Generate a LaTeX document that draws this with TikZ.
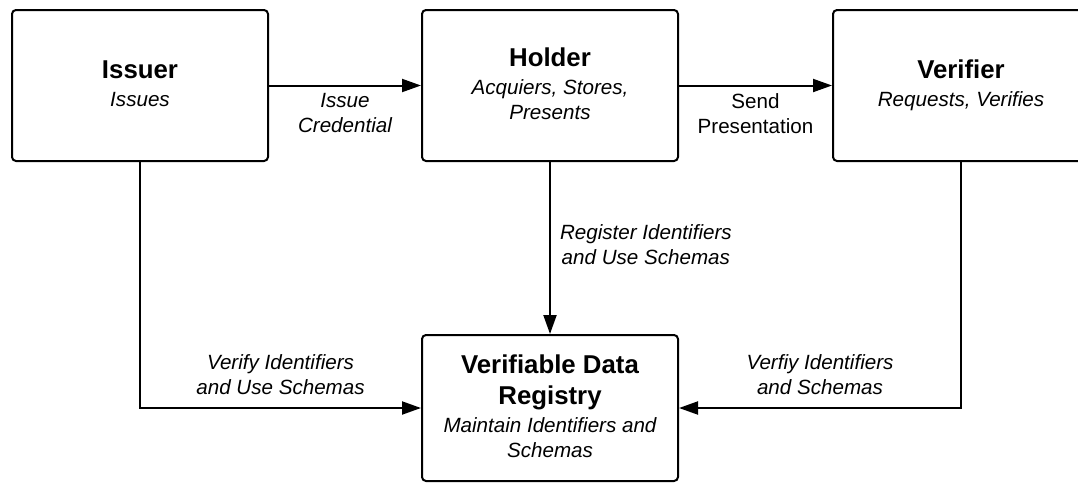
\documentclass[tikz,border=0pt]{standalone}
\usepackage{fontspec}
\setmainfont{Liberation Sans}
\usetikzlibrary{arrows.meta}

% bold heading line inside a party box
\newcommand{\boxtitle}[1]{{\fontsize{25.8}{31}\selectfont\bfseries\strut #1}}
% italic description line inside a party box
\newcommand{\boxnote}[1]{{\itshape\strut #1}}

\begin{document}
\begin{tikzpicture}[x=1pt,y=-1pt,
  role/.style={draw=black, line width=2pt, rounded corners=4pt, fill=white,
    minimum width=256pt, minimum height=151pt, align=center,
    font=\fontsize{20.6}{25}\selectfont, inner sep=0pt},
  flow/.style={line width=2pt, -{Triangle[length=19pt,width=13pt]}},
  lbl/.style={font=\fontsize{20.6}{25}\selectfont\itshape, align=center, inner sep=3pt},
  plainlbl/.style={font=\fontsize{20.6}{25}\selectfont, align=center, inner sep=3pt}]

\useasboundingbox (0,0) rectangle (1078,482);

% the four parties
\node[role] (issuer)   at (140,85.5) {\boxtitle{Issuer}\\\boxnote{Issues}};
\node[role] (holder)   at (550,85.5) {\boxtitle{Holder}\\\boxnote{Acquiers, Stores,}\\\boxnote{Presents}};
\node[role] (verifier) at (961,85.5) {\boxtitle{Verifier}\\\boxnote{Requests, Verifies}};
\node[role, minimum height=146pt] (registry) at (550,408)
  {\boxtitle{Verifiable Data}\\[-1pt]\boxtitle{Registry}\\\boxnote{Maintain Identifiers and}\\\boxnote{Schemas}};

% credential flow
\draw[flow] (issuer) -- node[lbl, below=4pt] {Issue\\Credential} (holder);
\draw[flow] (holder) -- node[plainlbl, below=4pt] {Send\\Presentation} (verifier);

% registry interactions
\draw[flow] (holder) -- node[lbl, right=6pt, yshift=3pt] {Register Identifiers\\and Use Schemas} (registry);
\draw[flow] (issuer.south) |- node[lbl, above=9pt, pos=0.75] {Verify Identifiers\\and Use Schemas} (registry.west);
\draw[flow] (verifier.south) |- node[lbl, above=9pt, pos=0.75] {Verfiy Identifiers\\and Schemas} (registry.east);

\end{tikzpicture}
\end{document}
